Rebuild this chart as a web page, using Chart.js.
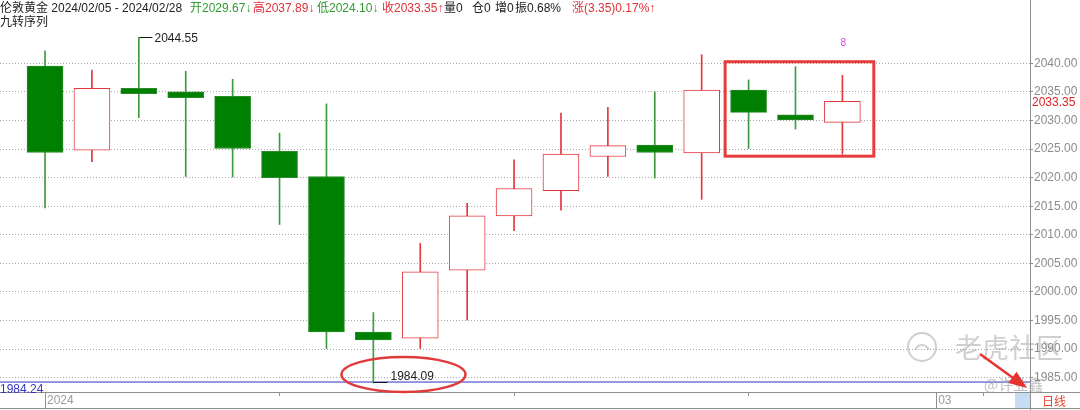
<!DOCTYPE html>
<html>
<head>
<meta charset="utf-8">
<script src="https://cdn.jsdelivr.net/npm/chart.js@4.4.1/dist/chart.umd.min.js"></script>
<style>
  html, body { margin: 0; padding: 0; background: #fff; }
  #wrap { position: relative; width: 1080px; height: 410px; overflow: hidden; }
  #head {
    position: absolute; left: 0; top: 0; width: 700px; height: 30px; z-index: 2;
    font: 12px "Liberation Sans", "Noto Sans CJK SC", sans-serif;
    line-height: 14px; color: #222; white-space: pre;
  }
  #head span { position: absolute; }
  .g { color: #2f9a2f; }
  .r { color: #e0303a; }
</style>
</head>
<body>
<div id="wrap">
  <div id="head">
    <span style="left:0;top:1px">伦敦黄金 2024/02/05 - 2024/02/28</span>
    <span class="g" style="left:190px;top:1px">开2029.67↓</span>
    <span class="r" style="left:253px;top:1px">高2037.89↓</span>
    <span class="g" style="left:317px;top:1px">低2024.10↓</span>
    <span class="r" style="left:382px;top:1px">收2033.35↑</span>
    <span style="left:444px;top:1px">量0</span>
    <span style="left:472px;top:1px">仓0</span>
    <span style="left:495px;top:1px">增0</span>
    <span style="left:515px;top:1px">振0.68%</span>
    <span class="r" style="left:572px;top:1px">涨(3.35)0.17%↑</span>
    <span style="left:0;top:15px">九转序列</span>
  </div>
  <canvas id="chart" width="1080" height="410"></canvas>
</div>
<script>
// 日K数据
const dates  = ['02/05','02/06','02/07','02/08','02/09','02/12','02/13','02/14','02/15',
                '02/16','02/19','02/20','02/21','02/22','02/23','02/26','02/27','02/28'];
const openP  = [2039.5, 2024.8, 2035.6, 2035.0, 2034.2, 2024.6, 2020.2, 1993.0, 1991.9,
                2003.8, 2013.3, 2017.7, 2023.7, 2025.7, 2024.3, 2035.3, 2031.0, 2029.67];
const highP  = [2042.2, 2038.8, 2044.55, 2038.6, 2037.2, 2027.8, 2032.9, 1996.4, 2008.5,
                2015.5, 2023.1, 2031.3, 2032.3, 2035.0, 2041.5, 2037.1, 2039.4, 2037.89];
const lowP   = [2014.7, 2022.8, 2030.5, 2020.2, 2020.1, 2011.8, 1990.1, 1984.09, 1990.1,
                1995.1, 2010.7, 2014.3, 2020.2, 2019.9, 2016.2, 2025.1, 2028.5, 2024.10];
const closeP = [2024.4, 2035.6, 2034.7, 2034.0, 2025.1, 2020.0, 1993.0, 1991.6, 2003.5,
                2013.3, 2018.1, 2024.1, 2025.6, 2024.4, 2035.3, 2031.4, 2030.1, 2033.35];

const yTickValues = [1985, 1990, 1995, 2000, 2005, 2010, 2015, 2020, 2025, 2030, 2035, 2040];
const weekTicks = [0, 5, 10, 15, 20];      // 每周一
const majorTicks = [0, 19];
const majorLabels = ['2024', '03'];
const supportLevel = 1984.24;
const lastClose = 2033.35;
const nineCountIdx = 17;
const nineCountText = '8';
const boxFrom = 15, boxTo = 17;            // 红框里的三根K线

const X_MIN = -0.96, X_MAX = 21.0;
const Y_MIN = 1982.5, Y_MAX = 2051.07;
const FONT = '"Liberation Sans", "Noto Sans CJK SC", sans-serif';

const GREEN = '#008000';
const GREEN_WICK = '#3f9a3f';
const RED = '#e2383e';

const isUp = i => closeP[i] >= openP[i];

const bodies = dates.map((d, i) => ({ x: i, y: [openP[i], closeP[i]] }));
const wicks = dates.map((d, i) => ({ x: i, y: [lowP[i], highP[i]] }));

const extras = {
  id: 'extras',
  beforeDraw(chart) {
    const { ctx } = chart;
    const area = chart.chartArea;
    ctx.save();
    // 底部蓝色小框
    ctx.fillStyle = '#c6dcf3';
    ctx.fillRect(area.right - 15, area.bottom + 1, 15, chart.height - area.bottom - 2);
    ctx.restore();
  },
  afterDatasetsDraw(chart) {
    const { ctx } = chart;
    const xs = chart.scales.x, ys = chart.scales.y;
    const area = chart.chartArea;
    const W = chart.width, H = chart.height;
    ctx.save();

    // 框线
    ctx.strokeStyle = '#8f8f8f';
    ctx.lineWidth = 1;
    ctx.beginPath();
    ctx.moveTo(area.right + 0.5, 0); ctx.lineTo(area.right + 0.5, H);
    ctx.moveTo(0, area.bottom + 0.5); ctx.lineTo(W, area.bottom + 0.5);
    ctx.moveTo(0, H - 1.5); ctx.lineTo(W, H - 1.5);
    ctx.stroke();

    // 支撑线标签
    ctx.font = '12px ' + FONT;
    ctx.fillStyle = '#3535cc';
    ctx.textBaseline = 'top';
    ctx.textAlign = 'left';
    ctx.fillText(supportLevel.toFixed(2), 0, ys.getPixelForValue(supportLevel) + 2);

    // 最高/最低价标注
    const hiIdx = highP.indexOf(Math.max(...highP));
    const loIdx = lowP.indexOf(Math.min(...lowP));
    ctx.strokeStyle = '#111';
    ctx.fillStyle = '#222';
    let px = Math.round(xs.getPixelForValue(hiIdx)) + 0.5;
    let py = Math.round(ys.getPixelForValue(highP[hiIdx])) + 0.5;
    ctx.beginPath(); ctx.moveTo(px, py); ctx.lineTo(px + 13, py); ctx.stroke();
    ctx.textBaseline = 'middle';
    ctx.fillText(highP[hiIdx].toFixed(2), px + 15, py + 1);
    px = Math.round(xs.getPixelForValue(loIdx)) + 0.5;
    py = Math.round(ys.getPixelForValue(lowP[loIdx])) - 0.5;
    ctx.beginPath(); ctx.moveTo(px, py); ctx.lineTo(px + 14, py); ctx.stroke();
    ctx.textBaseline = 'bottom';
    ctx.fillText(lowP[loIdx].toFixed(2), px + 17, py);

    // 红色椭圆
    ctx.strokeStyle = '#e03a3a';
    ctx.lineWidth = 2.5;
    ctx.beginPath();
    ctx.ellipse(px + 30, py - 8, 62, 17.5, 0, 0, Math.PI * 2);
    ctx.stroke();

    // 红框
    const step = xs.getPixelForValue(1) - xs.getPixelForValue(0);
    const bHigh = Math.max(...highP.slice(boxFrom, boxTo + 1));
    const bLow = Math.min(...lowP.slice(boxFrom, boxTo + 1));
    const bx1 = xs.getPixelForValue(boxFrom) - step * 0.5;
    const bx2 = xs.getPixelForValue(boxTo) + step * 0.67;
    const by1 = ys.getPixelForValue(bHigh) - 5;
    const by2 = ys.getPixelForValue(bLow) + 2;
    ctx.lineWidth = 3;
    ctx.strokeStyle = '#e63c3c';
    ctx.strokeRect(bx1, by1, bx2 - bx1, by2 - by1);

    // 九转序列计数
    ctx.font = '10px ' + FONT;
    ctx.fillStyle = '#e040e0';
    ctx.textAlign = 'center';
    ctx.textBaseline = 'middle';
    ctx.fillText(nineCountText, xs.getPixelForValue(nineCountIdx) + 1, ys.getPixelForValue(highP[nineCountIdx]) - 32);

    // 最新价标签
    const cy = ys.getPixelForValue(lastClose);
    ctx.fillStyle = '#fff';
    ctx.fillRect(area.right + 1, cy - 6, W - area.right, 12);
    ctx.font = '12px ' + FONT;
    ctx.fillStyle = '#e02020';
    ctx.textAlign = 'left';
    ctx.fillText(lastClose.toFixed(2), area.right + 2, cy + 1);

    // 水印
    ctx.fillStyle = 'rgba(160,160,160,0.5)';
    ctx.strokeStyle = 'rgba(160,160,160,0.5)';
    ctx.lineWidth = 2;
    ctx.beginPath(); ctx.arc(area.right - 108, area.bottom - 45, 14, 0, Math.PI * 2); ctx.stroke();
    ctx.beginPath(); ctx.arc(area.right - 108, area.bottom - 40, 7, Math.PI * 1.1, Math.PI * 1.9); ctx.stroke();
    ctx.font = '27px "Noto Sans CJK SC", sans-serif';
    ctx.textAlign = 'left';
    ctx.fillText('老虎社区', area.right - 75, area.bottom - 44);
    ctx.font = '15px "Noto Sans CJK SC", sans-serif';
    ctx.fillStyle = 'rgba(150,150,150,0.6)';
    ctx.fillText('@许业鑫', area.right - 46, area.bottom - 8);

    // 红色箭头
    const ax1 = area.right - 50, ay1 = area.bottom - 38;
    const ax2 = area.right - 3, ay2 = area.bottom - 4;
    const ang = Math.atan2(ay2 - ay1, ax2 - ax1);
    ctx.strokeStyle = '#e8322f';
    ctx.fillStyle = '#e8322f';
    ctx.lineWidth = 2.5;
    ctx.beginPath(); ctx.moveTo(ax1, ay1); ctx.lineTo(ax2 - 12 * Math.cos(ang), ay2 - 12 * Math.sin(ang)); ctx.stroke();
    ctx.beginPath();
    ctx.moveTo(ax2, ay2);
    ctx.lineTo(ax2 - 18 * Math.cos(ang) + 7 * Math.sin(ang), ay2 - 18 * Math.sin(ang) - 7 * Math.cos(ang));
    ctx.lineTo(ax2 - 18 * Math.cos(ang) - 7 * Math.sin(ang), ay2 - 18 * Math.sin(ang) + 7 * Math.cos(ang));
    ctx.closePath(); ctx.fill();

    // 周期
    ctx.font = '12px "Noto Sans CJK SC", sans-serif';
    ctx.fillStyle = '#e6452f';
    ctx.textBaseline = 'middle';
    ctx.fillText('日线', area.right + 12, area.bottom + 9);

    ctx.restore();
  }
};

new Chart(document.getElementById('chart'), {
  type: 'bar',
  data: {
    datasets: [
      {
        label: 'wick',
        data: wicks,
        backgroundColor: dates.map((d, i) => isUp(i) ? RED : GREEN_WICK),
        borderWidth: 0,
        barThickness: 1,
        grouped: false,
        order: 2
      },
      {
        label: 'body',
        data: bodies,
        backgroundColor: dates.map((d, i) => isUp(i) ? '#ffffff' : GREEN),
        borderColor: dates.map((d, i) => isUp(i) ? RED : '#2a8a2a'),
        borderWidth: 1,
        borderSkipped: false,
        barThickness: 36,
        minBarLength: 2,
        grouped: false,
        order: 1
      },
      {
        type: 'line',
        label: 'support',
        data: [{ x: X_MIN, y: supportLevel }, { x: X_MAX, y: supportLevel }],
        borderColor: '#3030c8',
        borderWidth: 1,
        pointRadius: 0,
        order: 3
      }
    ]
  },
  options: {
    responsive: false,
    animation: false,
    layout: { padding: { top: 0, bottom: 1, left: 0, right: 0 } },
    plugins: { legend: { display: false }, tooltip: { enabled: false } },
    scales: {
      x: {
        type: 'linear',
        position: 'bottom',
        weight: 0,
        offset: false,
        min: X_MIN, max: X_MAX,
        afterBuildTicks: ax => { ax.ticks = weekTicks.map(v => ({ value: v })); },
        afterFit: ax => { ax.height = 0; ax.paddingLeft = 0; ax.paddingRight = 0; },
        ticks: { display: false },
        grid: { offset: false, drawOnChartArea: false, tickLength: 4, tickColor: '#8f8f8f' },
        border: { display: false }
      },
      x2: {
        type: 'linear',
        position: 'bottom',
        weight: 1,
        offset: false,
        min: X_MIN, max: X_MAX,
        afterBuildTicks: ax => { ax.ticks = majorTicks.map(v => ({ value: v })); },
        afterFit: ax => { ax.height = 17; ax.paddingLeft = 0; ax.paddingRight = 0; },
        ticks: {
          autoSkip: false, maxRotation: 0, align: 'start',
          labelOffset: 2, padding: -16,
          color: '#9a9a9a', font: { size: 12, family: FONT },
          callback: v => majorLabels[majorTicks.indexOf(v)] ?? ''
        },
        grid: { offset: false, drawOnChartArea: false, tickLength: 17, tickColor: '#8f8f8f' },
        border: { display: false }
      },
      y: {
        position: 'right',
        min: Y_MIN, max: Y_MAX,
        afterBuildTicks: ax => { ax.ticks = yTickValues.map(v => ({ value: v })); },
        afterFit: ax => { ax.width = 50; ax.paddingTop = 0; ax.paddingBottom = 0; },
        ticks: {
          padding: 1,
          color: '#8c8c8c',
          font: { size: 12, family: FONT },
          callback: v => v.toFixed(2)
        },
        grid: { color: '#a8a8a8', tickLength: 3, tickColor: '#8f8f8f' },
        border: { display: false, dash: [1, 2] }
      }
    }
  },
  plugins: [extras]
});
</script>
</body>
</html>
